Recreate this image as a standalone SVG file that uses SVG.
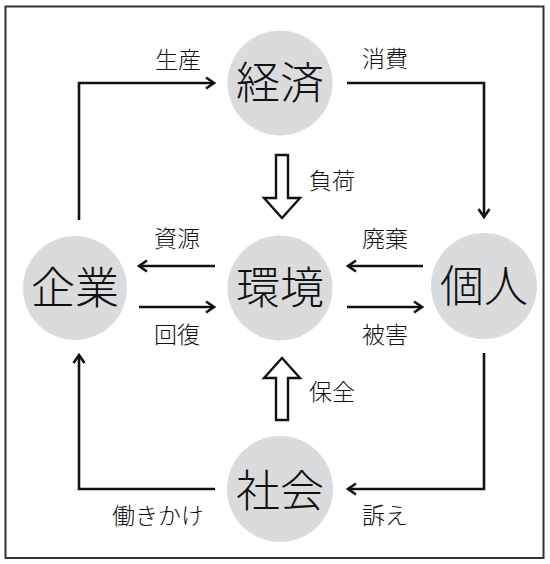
<svg xmlns="http://www.w3.org/2000/svg" width="550" height="564" viewBox="0 0 550 564">
<style>
.node circle{fill:#dadbdc;}
.node text{font-family:"Noto Sans CJK JP","Noto Sans",sans-serif;font-size:44px;font-weight:300;fill:#111;text-anchor:middle;}
.lbl{font-family:"Noto Sans CJK JP","Noto Sans",sans-serif;font-size:23px;font-weight:300;fill:#111;text-anchor:middle;}
.conn path{fill:none;stroke:#111;stroke-width:2.6;}
.hollow{fill:#fff;stroke:#111;stroke-width:2.4;stroke-linejoin:miter;}
</style>
<defs>
<marker id="ah" markerUnits="userSpaceOnUse" markerWidth="16" markerHeight="16" viewBox="-10 -8 12 16" refX="0" refY="0" orient="auto">
<path d="M-8,-5.5 L0,0 L-8,5.5" fill="none" stroke="#111" stroke-width="2.6"/>
</marker>
</defs>
<rect x="5.5" y="6.5" width="538" height="551.5" fill="#fff" stroke="#333" stroke-width="2"/>
<g class="conn">
<path d="M79,220 V83 H214" marker-end="url(#ah)"/>
<path d="M347,83 H484 V217" marker-end="url(#ah)"/>
<path d="M484,353 V489 H348" marker-end="url(#ah)"/>
<path d="M215,489 H79 V355" marker-end="url(#ah)"/>
<path d="M215,266 H139" marker-end="url(#ah)"/>
<path d="M139,307 H214" marker-end="url(#ah)"/>
<path d="M423,266 H348" marker-end="url(#ah)"/>
<path d="M347,307 H422" marker-end="url(#ah)"/>
<polygon class="hollow" points="276,155 288,155 288,198 300,198 282,218 264,198 276,198"/>
<polygon class="hollow" points="276,420 288,420 288,378 300,378 282,358 264,378 276,378"/>
</g>
<g id="keizai" class="node"><circle cx="280" cy="83" r="52.5"/><text x="280" y="99">経済</text></g>
<g id="kigyo" class="node"><circle cx="75" cy="288" r="52"/><text x="75" y="304">企業</text></g>
<g id="kankyo" class="node"><circle cx="280" cy="288" r="52.5"/><text x="280" y="304">環境</text></g>
<g id="kojin" class="node"><circle cx="484" cy="286" r="53"/><text x="484" y="302">個人</text></g>
<g id="shakai" class="node"><circle cx="280" cy="489" r="53"/><text x="280" y="507">社会</text></g>
<g id="labels">
<text class="lbl" x="178" y="68">生産</text>
<text class="lbl" x="385" y="67">消費</text>
<text class="lbl" x="332" y="189">負荷</text>
<text class="lbl" x="177" y="247">資源</text>
<text class="lbl" x="385" y="247">廃棄</text>
<text class="lbl" x="177" y="343">回復</text>
<text class="lbl" x="385" y="343">被害</text>
<text class="lbl" x="332" y="400">保全</text>
<text class="lbl" x="158" y="524">働きかけ</text>
<text class="lbl" x="385" y="524">訴え</text>
</g>
</svg>
